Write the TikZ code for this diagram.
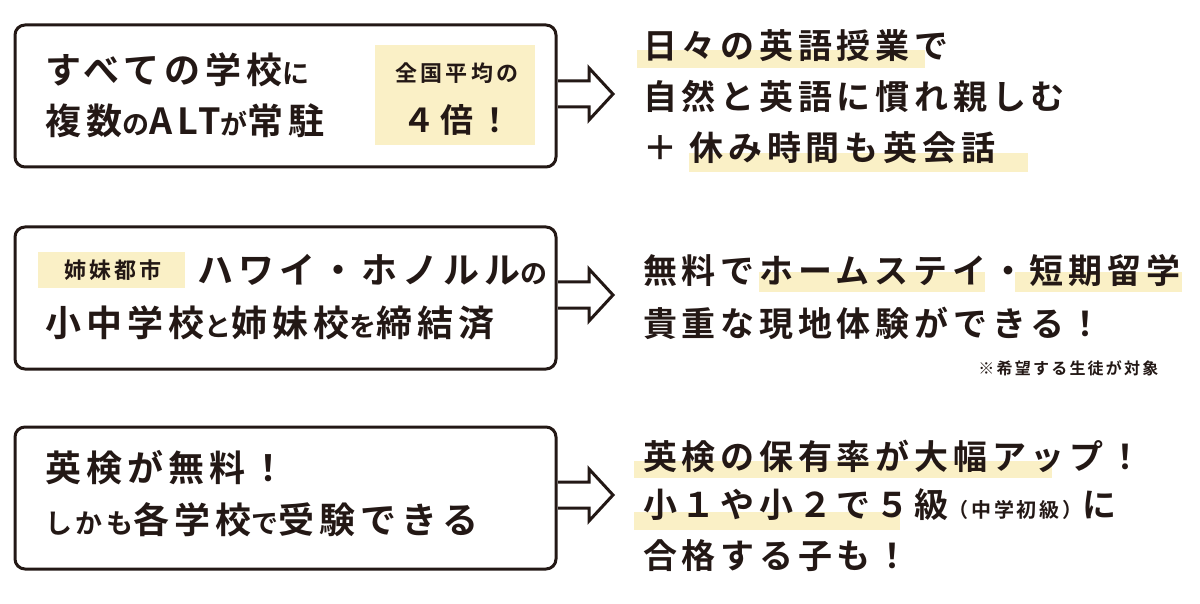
\documentclass[tikz,border=0pt]{standalone}
\usepackage{fontspec}
\setmainfont{Noto Sans CJK JP}[BoldFont=* Bold,LetterSpace=14]
\definecolor{ink}{HTML}{231815}
\definecolor{hl}{HTML}{FAF0C6}
\newcommand{\kana}[1]{{\fontsize{27}{27}\selectfont #1}}
\begin{document}
\begin{tikzpicture}[x=1pt,y=-1pt,
  box/.style={draw=ink,line width=3pt,rounded corners=10pt},
  arr/.style={draw=ink,line width=3pt,line join=miter},
  big/.style={font=\bfseries\fontsize{34}{34}\selectfont,text=ink,anchor=west,inner sep=0pt},
  bbig/.style={font=\bfseries\fontsize{36}{36}\selectfont,text=ink,anchor=west,inner sep=0pt},
  sm/.style={font=\bfseries\fontsize{22}{22}\selectfont,text=ink}]
\useasboundingbox (0,0) rectangle (1200,604);
% boxes
\draw[box] (15,25) rectangle (556,167);
\draw[box] (15,227) rectangle (556,369);
\draw[box] (15,427) rectangle (556,569);
% arrows
\foreach \y in {94,295,495}{
  \draw[arr] (558,\y-13) -- (589,\y-13) -- (589,\y-26) -- (613,\y) -- (589,\y+26) -- (589,\y+13) -- (558,\y+13);
}
% box1
\fill[hl] (375,45) rectangle (535,145);
\node[bbig] (t1) at (45,70) {すべての学校\kana{に}};
\node[bbig] (t2) at (45,121) {複数\kana{の}ALT\kana{が}常駐};
\node[sm] (t3) at (457,73) {全国平均の};
\node[font=\bfseries\fontsize{33}{33}\selectfont,text=ink] (t4) at (457,120) {４倍！};
% box2
\fill[hl] (38,252) rectangle (185,288);
\node[sm] (t5) at (113,270) {姉妹都市};
\node[bbig] (t6) at (197,270) {ハワイ・ホノルル\kana{の}};
\node[bbig] (t7) at (45,323) {小中学校\kana{と}姉妹校\kana{を}締結済};
% box3
\node[bbig] (t8) at (45,468) {英検が無料！};
\node[bbig] (t9) at (45,520) {\kana{しかも}各学校\kana{で}受験できる};
% right group 1
\fill[hl] (637,50) rectangle (925,68);
\fill[hl] (689,153) rectangle (1028,172);
\node[big] (r1) at (643,46) {日々の英語授業で};
\node[big] (r2) at (643,97) {自然と英語に慣れ親しむ};
\node[big] (r3) at (643,148) {＋ 休み時間も英会話};
% right group 2
\fill[hl] (759,272) rectangle (985,292);
\fill[hl] (1015,272) rectangle (1182,292);
\node[big] (r4) at (643,271) {無料でホームステイ・短期留学};
\node[big] (r5) at (643,323) {貴重な現地体験ができる！};
\node[font=\bfseries\fontsize{16}{16}\selectfont,text=ink,anchor=east] (r6) at (1162,368) {※希望する生徒が対象};
% right group 3
\fill[hl] (634,461) rectangle (1052,478);
\fill[hl] (634,512) rectangle (900,530);
\node[big] (r7) at (643,456) {英検の保有率が大幅アップ！};
\node[big] (r8) at (643,505) {小１や小２で５級{\fontsize{20}{20}\selectfont（中学初級）}に};
\node[big] (r9) at (643,556) {合格する子も！};
\end{tikzpicture}
\end{document}
